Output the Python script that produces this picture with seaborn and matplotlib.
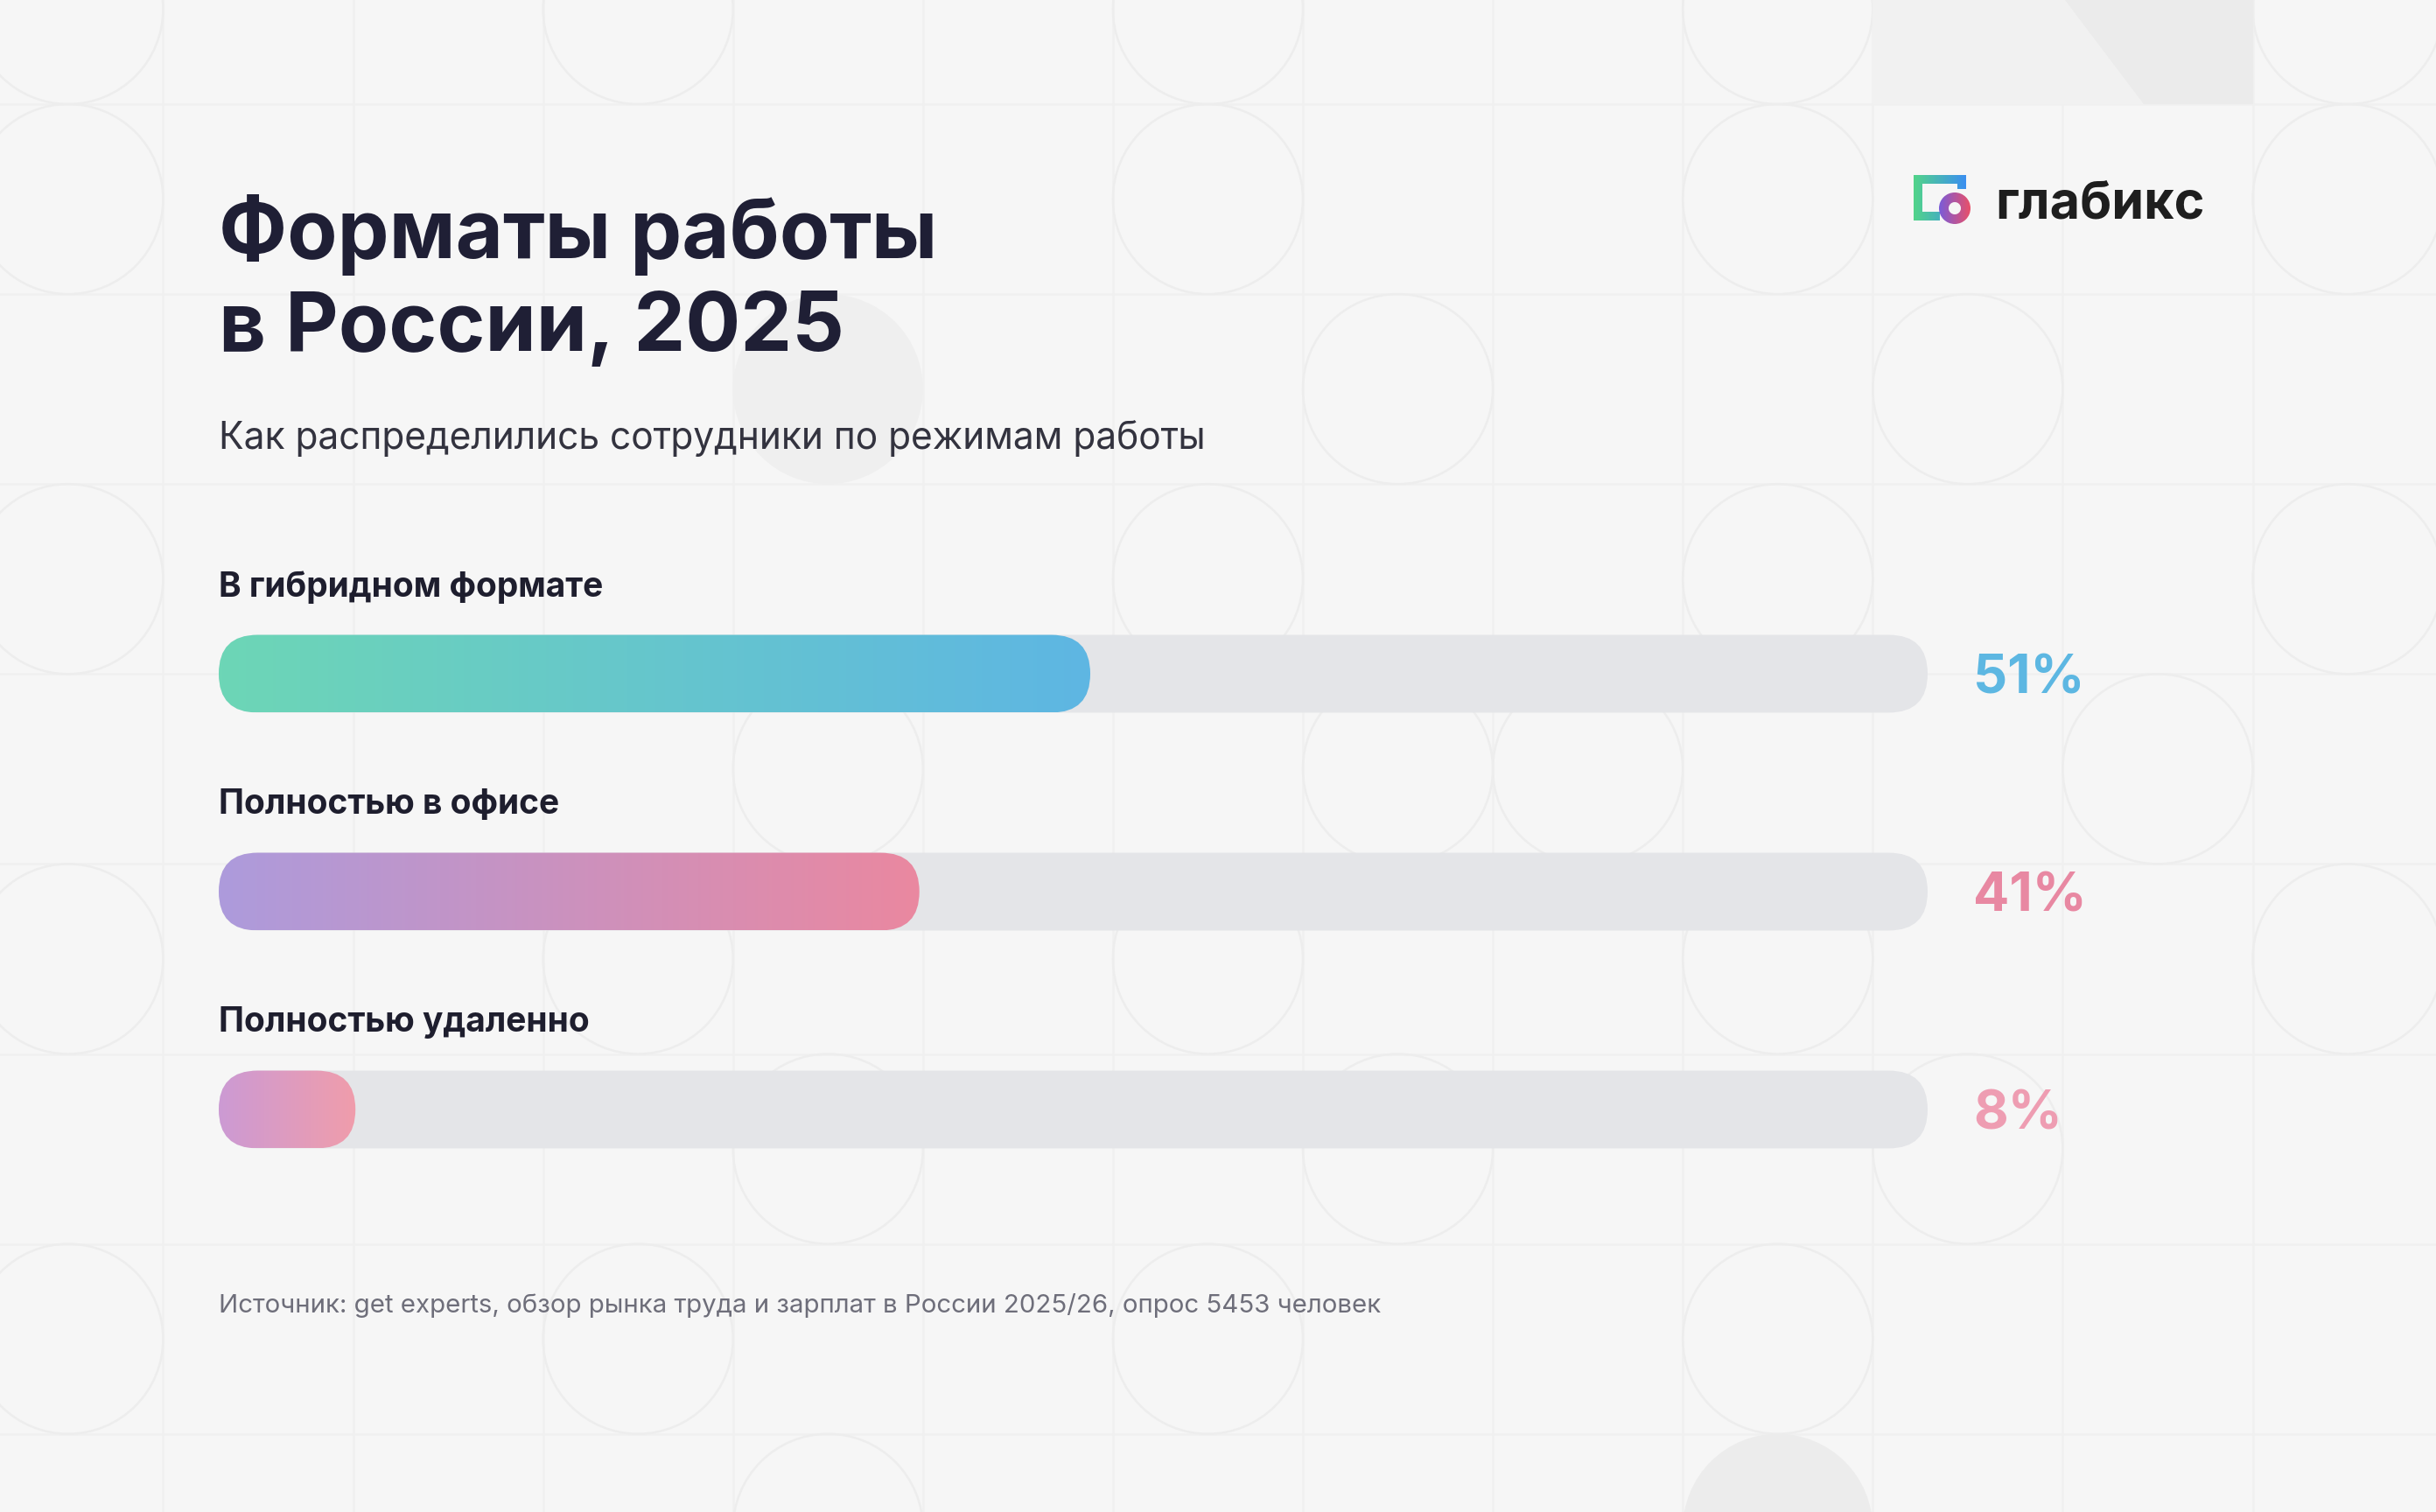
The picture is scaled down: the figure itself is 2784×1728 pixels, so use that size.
import numpy as np
import pandas as pd
import matplotlib.pyplot as plt
import seaborn as sns
from matplotlib.patches import FancyBboxPatch, Circle, Rectangle, Polygon, Wedge, PathPatch
from matplotlib.colors import LinearSegmentedColormap
from matplotlib.transforms import IdentityTransform
from matplotlib.path import Path

# данные
categories = ["В гибридном формате", "Полностью в офисе", "Полностью удаленно"]
shares = [51, 41, 8]
value_labels = ["51%", "41%", "8%"]
grad_start = ["#6dd6b6", "#ad9bdc", "#cc9ad4"]
grad_end = ["#5eb6e3", "#ea88a0", "#f09dab"]
label_colors = ["#5db7e2", "#e888a2", "#ee9db2"]

W, H = 2784, 1728
DPI = 200

sns.set_theme(style="white")
plt.rcParams['font.family'] = ['Inter', 'DejaVu Sans']

fig = plt.figure(figsize=(W / DPI, H / DPI), dpi=DPI)
fig.patch.set_facecolor("#f6f6f6")

# фон с узором (координаты в пикселях)
bg = fig.add_axes([0, 0, 1, 1], zorder=0)
bg.set_facecolor('none')

cell = 217.1
gx0, gy0 = 186.4, 119.0
line_col = "#f0f0f0"
for k in range(-1, 13):
    bg.plot([gx0 + k * cell] * 2, [0, H], color=line_col, lw=0.9, zorder=0)
for r in range(-1, 8):
    bg.plot([0, W], [gy0 + r * cell] * 2, color=line_col, lw=0.9, zorder=0)

circle_cells = {0: [0, 3, 6, 9, 12], 1: [0, 6, 9, 12], 2: [7, 10], 3: [0, 6, 9, 12],
                4: [4, 7, 8, 11], 5: [0, 3, 6, 9, 12], 6: [4, 7, 10], 7: [0, 3, 6, 9], 8: [4]}
for r, cols in circle_cells.items():
    for c in cols:
        cx = gx0 - cell / 2 + c * cell
        cy = gy0 - cell / 2 + r * cell
        bg.add_patch(Circle((cx, cy), cell / 2, fill=False, ec="#ededed", lw=0.9, zorder=0))

# залитые круги и плашка в правом верхнем углу
bg.add_patch(Circle((gx0 - cell / 2 + 4 * cell, gy0 - cell / 2 + 2 * cell), cell / 2,
                    fc="#efefef", ec="none", zorder=0))
bg.add_patch(Circle((gx0 - cell / 2 + 9 * cell, gy0 - cell / 2 + 8 * cell), cell / 2,
                    fc="#ececec", ec="none", zorder=0))
bg.add_patch(Rectangle((gx0 + 9 * cell, 0), 2 * cell, gy0, fc="#f1f1f1", ec="none", zorder=0))
bg.add_patch(Polygon([(2360, 0), (gx0 + 11 * cell, 0), (gx0 + 11 * cell, gy0), (2450, gy0)],
                     closed=True, fc="#ebebeb", ec="none", zorder=0))

# заголовки
title_col = "#1f1f35"
bg.text(250, 295, "Форматы работы", fontsize=33.7, fontweight='bold', color=title_col, va='baseline')
bg.text(250, 401, "в России, 2025", fontsize=33.7, fontweight='bold', color=title_col, va='baseline')
bg.text(250, 513, "Как распределились сотрудники по режимам работы", fontsize=15.3,
        color="#33333f", va='baseline')
bg.text(250, 1500, "Источник: get experts, обзор рынка труда и зарплат в России 2025/26, опрос 5453 человек",
        fontsize=10.6, color="#6e6e7a", va='baseline')

# логотип
bg.text(2280, 249, "глабикс", fontsize=21.3, fontweight='bold', color="#1e1e1e", va='baseline')
sq = [(2187, 200, 60, 10), (2187, 200, 10, 52), (2187, 242, 30, 10), (2237, 200, 10, 16)]
verts, codes = [], []
for (x, y, w, h) in sq:
    verts += [(x, y), (x + w, y), (x + w, y + h), (x, y + h), (x, y)]
    codes += [Path.MOVETO, Path.LINETO, Path.LINETO, Path.LINETO, Path.CLOSEPOLY]
sq_patch = PathPatch(Path(verts, codes), fc='none', ec='none')
bg.add_patch(sq_patch)
cm_sq = LinearSegmentedColormap.from_list("sq", ["#52d48a", "#3b8ff0"])
im = bg.imshow(np.linspace(0, 1, 64).reshape(1, -1), cmap=cm_sq, extent=(2187, 2247, 252, 200),
               aspect='auto', zorder=2)
im.set_clip_path(sq_patch)
ring = Wedge((2234, 238), 18, 0, 360, width=11, fc='none', ec='none')
bg.add_patch(ring)
cm_ring = LinearSegmentedColormap.from_list("ring", ["#7a5cd8", "#e8506a"])
im2 = bg.imshow(np.linspace(0, 1, 64).reshape(1, -1), cmap=cm_ring, extent=(2216, 2252, 256, 220),
                aspect='auto', zorder=3)
im2.set_clip_path(ring)
bg.set_xlim(0, W)
bg.set_ylim(H, 0)
bg.axis('off')

# полосы
ax = fig.add_axes([250 / W, (H - 1392.5) / H, 1953 / W, 747 / H], zorder=2)
ax.set_facecolor('none')
df = pd.DataFrame({"cat": categories, "share": shares, "full": [100] * len(shares)})
sns.barplot(data=df, x="full", y="cat", orient="h", color="#e4e5e8", width=0.357, ax=ax)
sns.barplot(data=df, x="share", y="cat", orient="h", color="#888888", width=0.357, ax=ax)
ax.set_xlim(0, 100)
ax.set_ylim(2.5, -0.5)
ax.axis('off')

fig.canvas.draw()
bars = list(ax.patches)
n = len(categories)
for j, p in enumerate(bars):
    bb = p.get_window_extent()
    p.set_visible(False)
    rr = FancyBboxPatch((bb.x0, bb.y0), bb.width, bb.height,
                        boxstyle=f"round,pad=0,rounding_size={bb.height / 2}",
                        ec='none', clip_on=False)
    ax.add_patch(rr)
    rr.set_transform(IdentityTransform())
    if j < n:
        rr.set_facecolor("#e4e5e8")
    else:
        i = j - n
        rr.set_facecolor('none')
        cm = LinearSegmentedColormap.from_list(f"g{i}", [grad_start[i], grad_end[i]])
        x0, y0, w, h = p.get_x(), p.get_y(), p.get_width(), p.get_height()
        g = ax.imshow(np.linspace(0, 1, 256).reshape(1, -1), cmap=cm,
                      extent=(x0, x0 + w, y0 + h, y0), aspect='auto', zorder=3)
        g.set_clip_path(rr)

for i, cat in enumerate(categories):
    ax.text(0, i - 0.398, cat, fontsize=14, fontweight='bold', color="#1e1e2e",
            va='center', ha='left')
    ax.text(102.66, i, value_labels[i], fontsize=22, fontweight='bold', color=label_colors[i],
            va='center_baseline', ha='left')

ax.set_xlim(0, 100)
ax.set_ylim(2.5, -0.5)

fig.savefig("out.png", dpi=DPI, facecolor=fig.get_facecolor())
